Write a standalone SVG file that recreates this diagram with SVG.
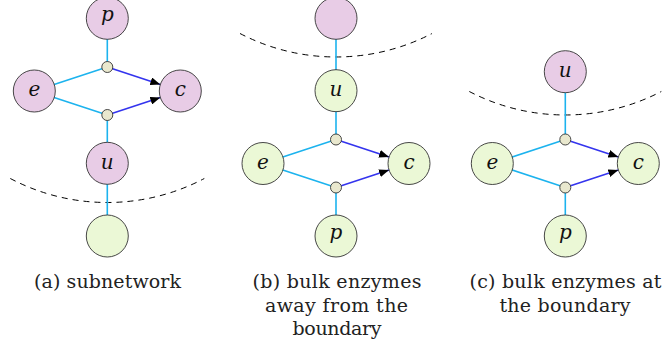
<svg xmlns="http://www.w3.org/2000/svg" width="663" height="347" viewBox="0 0 663 347">
<style>
.bg{fill:#ffffff}
.big{stroke:#333333;stroke-width:0.9}
.pur{fill:#E8CCE6}
.grn{fill:#EBF8D6}
.sm{fill:#E9E8CE;stroke:#333333;stroke-width:0.9}
.cy{stroke:#1CB3EE;stroke-width:1.6;fill:none}
.bl{stroke:#3434EE;stroke-width:1.6;fill:none}
.bd{stroke:#000000;stroke-width:1;fill:none;stroke-dasharray:6 5}
.lbl{font-family:"DejaVu Serif","Noto Serif","Liberation Serif",serif;font-style:italic;font-size:20px;fill:#111111;text-anchor:middle}
.cap{font-family:"DejaVu Serif","Noto Serif","Liberation Serif",serif;font-size:19px;fill:#222222;text-anchor:middle}
</style>
<defs>
<marker id="ah" markerUnits="userSpaceOnUse" markerWidth="10" markerHeight="8" refX="10" refY="4" orient="auto">
<path d="M0,0 L10,4 L0,8 z" fill="#000000"/>
</marker>
</defs>
<rect class="bg" x="0" y="0" width="663" height="347"/>

<g id="boundaries">
<path class="bd" d="M10.3,178.5 A208,208 0 0 0 204.3,178.5"/>
<path class="bd" d="M240,33.5 A208,208 0 0 0 432,33.5"/>
<path class="bd" d="M469.3,91.5 A208,208 0 0 0 661.3,91.5"/>
</g>

<g id="connectors">
<g transform="translate(107.3,0)">
<line class="cy" x1="0" y1="18.3" x2="0" y2="67"/>
<line class="cy" x1="-73" y1="91" x2="0" y2="67"/>
<line class="cy" x1="-73" y1="91" x2="0" y2="115"/>
<line class="cy" x1="0" y1="115" x2="0" y2="163.3"/>
<line class="cy" x1="0" y1="163.3" x2="0" y2="236"/>
<line class="bl" x1="0" y1="67" x2="53.05" y2="84.44" marker-end="url(#ah)"/>
<line class="bl" x1="0" y1="115" x2="53.05" y2="97.56" marker-end="url(#ah)"/>
</g>
<g transform="translate(336,0)">
<line class="cy" x1="0" y1="18.3" x2="0" y2="90.7"/>
<line class="cy" x1="0" y1="90.7" x2="0" y2="139.5"/>
<line class="cy" x1="-73" y1="163.5" x2="0" y2="139.5"/>
<line class="cy" x1="-73" y1="163.5" x2="0" y2="187.5"/>
<line class="cy" x1="0" y1="187.5" x2="0" y2="236"/>
<line class="bl" x1="0" y1="139.5" x2="53.05" y2="156.94" marker-end="url(#ah)"/>
<line class="bl" x1="0" y1="187.5" x2="53.05" y2="170.06" marker-end="url(#ah)"/>
</g>
<g transform="translate(565.3,0)">
<line class="cy" x1="0" y1="71.7" x2="0" y2="139.5"/>
<line class="cy" x1="-73" y1="163.5" x2="0" y2="139.5"/>
<line class="cy" x1="-73" y1="163.5" x2="0" y2="187.5"/>
<line class="cy" x1="0" y1="187.5" x2="0" y2="236"/>
<line class="bl" x1="0" y1="139.5" x2="53.05" y2="156.94" marker-end="url(#ah)"/>
<line class="bl" x1="0" y1="187.5" x2="53.05" y2="170.06" marker-end="url(#ah)"/>
</g>
</g>

<g id="panel-a" transform="translate(107.3,0)">
<g id="a-p"><circle class="big pur" cx="0" cy="18.3" r="21"/><text class="lbl" x="0" y="21">p</text></g>
<g id="a-r1"><circle class="sm" cx="0" cy="67" r="5.5"/></g>
<g id="a-e"><circle class="big pur" cx="-73" cy="91" r="21"/><text class="lbl" x="-73" y="96.3">e</text></g>
<g id="a-c"><circle class="big pur" cx="73" cy="91" r="21"/><text class="lbl" x="73" y="96.3">c</text></g>
<g id="a-r2"><circle class="sm" cx="0" cy="115" r="5.5"/></g>
<g id="a-u"><circle class="big pur" cx="0" cy="163.3" r="21"/><text class="lbl" x="0" y="168.6">u</text></g>
<g id="a-out"><circle class="big grn" cx="0" cy="236" r="21"/></g>
</g>

<g id="panel-b" transform="translate(336,0)">
<g id="b-out"><circle class="big pur" cx="0" cy="18.3" r="21"/></g>
<g id="b-u"><circle class="big grn" cx="0" cy="90.7" r="21"/><text class="lbl" x="0" y="96">u</text></g>
<g id="b-r1"><circle class="sm" cx="0" cy="139.5" r="5.5"/></g>
<g id="b-e"><circle class="big grn" cx="-73" cy="163.5" r="21"/><text class="lbl" x="-73" y="168.8">e</text></g>
<g id="b-c"><circle class="big grn" cx="73" cy="163.5" r="21"/><text class="lbl" x="73" y="168.8">c</text></g>
<g id="b-r2"><circle class="sm" cx="0" cy="187.5" r="5.5"/></g>
<g id="b-p"><circle class="big grn" cx="0" cy="236" r="21"/><text class="lbl" x="0" y="238.7">p</text></g>
</g>

<g id="panel-c" transform="translate(565.3,0)">
<g id="c-u"><circle class="big pur" cx="0" cy="71.7" r="21"/><text class="lbl" x="0" y="77">u</text></g>
<g id="c-r1"><circle class="sm" cx="0" cy="139.5" r="5.5"/></g>
<g id="c-e"><circle class="big grn" cx="-73" cy="163.5" r="21"/><text class="lbl" x="-73" y="168.8">e</text></g>
<g id="c-c"><circle class="big grn" cx="73" cy="163.5" r="21"/><text class="lbl" x="73" y="168.8">c</text></g>
<g id="c-r2"><circle class="sm" cx="0" cy="187.5" r="5.5"/></g>
<g id="c-p"><circle class="big grn" cx="0" cy="236" r="21"/><text class="lbl" x="0" y="238.7">p</text></g>
</g>

<g id="captions">
<text class="cap" x="107.5" y="287.5" textLength="147" lengthAdjust="spacing">(a) subnetwork</text>
<text class="cap" x="337" y="287.5" textLength="169" lengthAdjust="spacing">(b) bulk enzymes</text>
<text class="cap" x="336.5" y="311.5" textLength="143" lengthAdjust="spacing">away from the</text>
<text class="cap" x="337" y="335" textLength="89" lengthAdjust="spacing">boundary</text>
<text class="cap" x="565.5" y="287.5" textLength="192" lengthAdjust="spacing">(c) bulk enzymes at</text>
<text class="cap" x="565" y="311.5" textLength="131" lengthAdjust="spacing">the boundary</text>
</g>
</svg>
